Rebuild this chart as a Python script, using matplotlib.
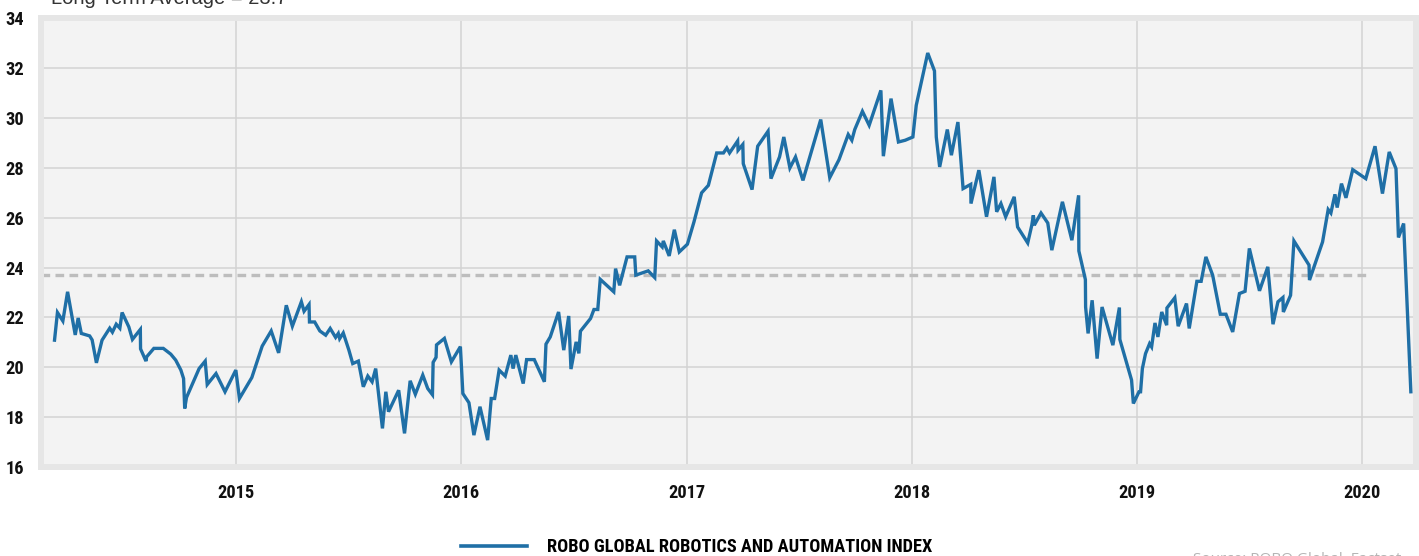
import matplotlib
matplotlib.use("Agg")
import matplotlib.pyplot as plt
from matplotlib.lines import Line2D
from matplotlib import font_manager as fm

# weekly-ish index P/E (decimal year, value)
years = [2014.194, 2014.207, 2014.231, 2014.252, 2014.286, 2014.299, 2014.313, 2014.350, 2014.361, 2014.380,
         2014.405, 2014.439, 2014.451, 2014.468, 2014.484, 2014.494, 2014.524, 2014.540, 2014.575, 2014.576,
         2014.600, 2014.603, 2014.635, 2014.677, 2014.710, 2014.732, 2014.755, 2014.767, 2014.772, 2014.780,
         2014.836, 2014.863, 2014.872, 2014.911, 2014.951, 2014.999, 2015.015, 2015.070, 2015.116, 2015.156,
         2015.189, 2015.223, 2015.250, 2015.290, 2015.302, 2015.324, 2015.326, 2015.349, 2015.372, 2015.398,
         2015.418, 2015.442, 2015.454, 2015.460, 2015.476, 2015.501, 2015.518, 2015.543, 2015.565, 2015.585,
         2015.604, 2015.620, 2015.650, 2015.665, 2015.677, 2015.722, 2015.748, 2015.773, 2015.796, 2015.829,
         2015.851, 2015.872, 2015.875, 2015.888, 2015.890, 2015.925, 2015.956, 2015.996, 2016.007, 2016.034,
         2016.056, 2016.083, 2016.117, 2016.133, 2016.148, 2016.168, 2016.195, 2016.220, 2016.230, 2016.242,
         2016.275, 2016.290, 2016.324, 2016.369, 2016.376, 2016.395, 2016.432, 2016.455, 2016.477, 2016.487,
         2016.510, 2016.522, 2016.529, 2016.574, 2016.589, 2016.606, 2016.617, 2016.677, 2016.685, 2016.703,
         2016.736, 2016.770, 2016.775, 2016.830, 2016.859, 2016.867, 2016.892, 2016.897, 2016.923, 2016.946,
         2016.968, 2017.004, 2017.033, 2017.067, 2017.097, 2017.134, 2017.164, 2017.179, 2017.191, 2017.227,
         2017.229, 2017.250, 2017.252, 2017.291, 2017.316, 2017.362, 2017.375, 2017.413, 2017.432, 2017.459,
         2017.484, 2017.517, 2017.596, 2017.636, 2017.677, 2017.718, 2017.734, 2017.747, 2017.781, 2017.811,
         2017.863, 2017.874, 2017.908, 2017.941, 2017.971, 2018.005, 2018.020, 2018.071, 2018.101, 2018.109,
         2018.124, 2018.158, 2018.176, 2018.205, 2018.228, 2018.262, 2018.263, 2018.298, 2018.332, 2018.365,
         2018.377, 2018.396, 2018.417, 2018.455, 2018.470, 2018.515, 2018.533, 2018.540, 2018.544, 2018.574,
         2018.604, 2018.622, 2018.669, 2018.711, 2018.741, 2018.742, 2018.771, 2018.772, 2018.783, 2018.801,
         2018.823, 2018.845, 2018.893, 2018.922, 2018.924, 2018.976, 2018.984, 2019.009, 2019.016, 2019.024,
         2019.038, 2019.056, 2019.065, 2019.080, 2019.093, 2019.110, 2019.132, 2019.133, 2019.168, 2019.183,
         2019.220, 2019.232, 2019.266, 2019.285, 2019.306, 2019.336, 2019.370, 2019.395, 2019.425, 2019.455,
         2019.480, 2019.499, 2019.544, 2019.581, 2019.604, 2019.626, 2019.648, 2019.650, 2019.682, 2019.697,
         2019.764, 2019.766, 2019.824, 2019.849, 2019.861, 2019.879, 2019.889, 2019.908, 2019.928, 2019.958,
         2020.016, 2020.057, 2020.090, 2020.120, 2020.150, 2020.161, 2020.184, 2020.216]
pe = [21.09, 22.20, 21.86, 23.03, 21.30, 21.98, 21.36, 21.26, 21.10, 20.18,
      21.09, 21.57, 21.41, 21.73, 21.57, 22.20, 21.62, 21.12, 21.52, 20.74,
      20.25, 20.42, 20.76, 20.76, 20.53, 20.29, 19.89, 19.55, 18.35, 18.79,
      19.95, 20.25, 19.31, 19.75, 19.02, 19.89, 18.75, 19.59, 20.85, 21.46,
      20.58, 22.49, 21.65, 22.63, 22.25, 22.52, 21.82, 21.82, 21.46, 21.29,
      21.56, 21.20, 21.36, 21.15, 21.38, 20.69, 20.15, 20.25, 19.22, 19.65,
      19.42, 19.95, 17.55, 19.02, 18.22, 19.08, 17.35, 19.46, 18.92, 19.69,
      19.15, 18.90, 20.20, 20.40, 20.90, 21.16, 20.22, 20.83, 18.95, 18.58,
      17.28, 18.42, 17.08, 18.75, 18.75, 19.89, 19.65, 20.49, 19.95, 20.49,
      19.35, 20.31, 20.31, 19.42, 20.93, 21.22, 22.22, 20.69, 22.06, 19.93,
      21.02, 20.56, 21.45, 21.96, 22.32, 22.32, 23.53, 23.03, 23.96, 23.29,
      24.43, 24.43, 23.70, 23.87, 23.60, 25.07, 24.83, 25.07, 24.47, 25.52,
      24.63, 24.94, 25.83, 27.00, 27.30, 28.60, 28.60, 28.80, 28.60, 29.08,
      28.71, 28.94, 28.17, 27.13, 28.87, 29.47, 27.57, 28.44, 29.24, 28.00,
      28.44, 27.50, 29.94, 27.61, 28.33, 29.34, 29.11, 29.54, 30.27, 29.71,
      31.11, 28.47, 30.78, 29.04, 29.11, 29.24, 30.51, 32.61, 31.89, 29.24,
      28.04, 29.54, 28.51, 29.84, 27.17, 27.34, 26.57, 27.91, 26.04, 27.64,
      26.24, 26.57, 26.04, 26.84, 25.63, 24.99, 25.70, 26.10, 25.70, 26.19,
      25.79, 24.70, 26.64, 25.10, 26.90, 24.67, 23.52, 22.42, 21.36, 22.69,
      20.35, 22.42, 20.89, 22.40, 21.12, 19.49, 18.55, 19.02, 19.02, 19.95,
      20.55, 20.95, 20.82, 21.78, 21.22, 22.22, 21.69, 22.38, 22.79, 21.65,
      22.56, 21.56, 23.45, 23.45, 24.43, 23.70, 22.13, 22.13, 21.42, 22.96,
      23.05, 24.77, 23.07, 24.03, 21.73, 22.63, 22.80, 22.22, 22.89, 25.07,
      24.10, 23.50, 25.03, 26.33, 26.19, 26.94, 26.41, 27.37, 26.80, 27.93,
      27.57, 28.87, 26.97, 28.64, 27.97, 25.21, 25.77, 19.02]

avg_pe = 23.7
avg_end = 2020.03
year_ticks = [2015, 2016, 2017, 2018, 2019, 2020]
pe_ticks = [16, 18, 20, 22, 24, 26, 28, 30, 32, 34]

line_color = "#1f6fa6"

# look for a condensed bold face, otherwise plain Liberation Sans a bit smaller
names = set(f.name for f in fm.fontManager.ttflist)
cond_font = None
for c in ["Roboto Condensed", "Liberation Sans Narrow", "Open Sans Condensed",
          "Noto Sans Condensed", "Arial Narrow", "DejaVu Sans Condensed"]:
    if c in names:
        cond_font = c
        break
stretch = "normal"
if cond_font is None:
    for f in fm.fontManager.ttflist:
        if f.name in ("Roboto", "Noto Sans", "Open Sans") and str(f.stretch) in ("condensed", "semi-condensed", "extra-condensed"):
            cond_font = f.name
            stretch = "condensed"
            break
if cond_font is None:
    lab_font = {"family": ["Liberation Sans", "DejaVu Sans"], "weight": "bold", "size": 11.5}
else:
    lab_font = {"family": [cond_font, "DejaVu Sans"], "weight": "bold", "size": 13.2, "stretch": stretch}

fig = plt.figure(figsize=(14.19, 5.56), dpi=100)
ax = fig.add_axes([0.0289, 0.160, 0.9690, 0.807])
ax.set_facecolor("#f3f3f3")

ax.plot(years, pe, color=line_color, lw=2.4, solid_joinstyle="miter", zorder=3)
ax.plot([2014.134, avg_end], [avg_pe, avg_pe], color="#bdbdbd", lw=2.4,
        dashes=(2.6, 1.6), zorder=2)

ax.set_xlim(2014.134, 2020.239)
ax.set_ylim(16, 34)
ax.set_xticks(year_ticks)
ax.set_yticks(pe_ticks)
ax.set_xticklabels([str(y) for y in year_ticks])
ax.grid(True, color="#d3d3d3", lw=1.1, zorder=1)
ax.set_axisbelow(True)
for s in ax.spines.values():
    s.set_color("#e6e6e6")
    s.set_linewidth(4.3)
ax.tick_params(length=0, pad=12)
for lab in ax.get_xticklabels() + ax.get_yticklabels():
    lab.set_fontproperties(fm.FontProperties(**lab_font))
    lab.set_color("#111111")

fig.text(0.036, 0.993, "Long Term Average = 23.7", fontsize=14.5, color="#333333",
         family=["Liberation Sans", "DejaVu Sans"], va="baseline", ha="left")
fig.text(0.841, 0.008, "Source: ROBO Global, Factset", fontsize=11, color="#b5b5b5",
         family=["Open Sans", "DejaVu Sans"], va="top", ha="left")

handle = Line2D([], [], color=line_color, lw=2.6)
fig.legend([handle], ["ROBO GLOBAL ROBOTICS AND AUTOMATION INDEX"], loc="center",
           bbox_to_anchor=(0.491, 0.016), frameon=False, handlelength=3.6,
           handletextpad=1.1, prop=fm.FontProperties(**lab_font))

fig.savefig("out.png", dpi=100)
